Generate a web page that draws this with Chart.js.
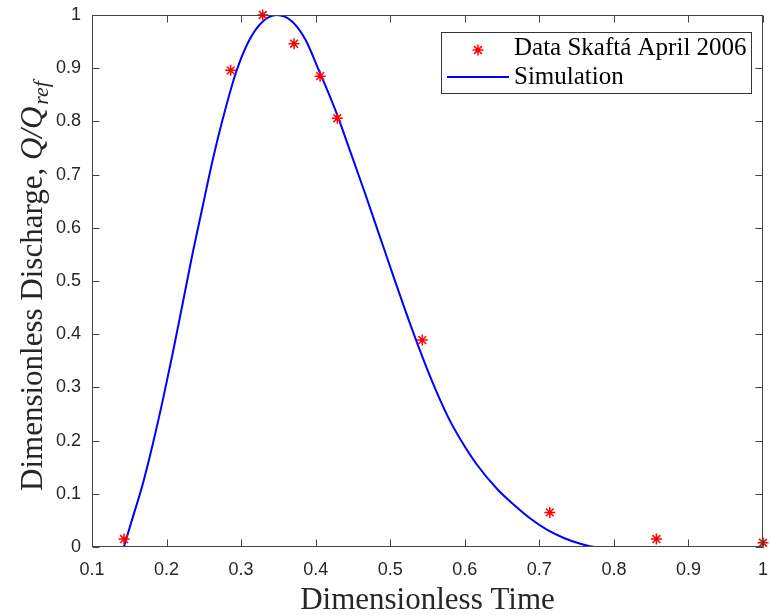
<!DOCTYPE html>
<html>
<head>
<meta charset="utf-8">
<script src="https://cdn.jsdelivr.net/npm/chart.js@4.4.1/dist/chart.umd.min.js"></script>
<style>
  html, body { margin: 0; padding: 0; background: #fff; }
  #chart { display: block; }
</style>
</head>
<body>
<canvas id="chart" width="770" height="615"></canvas>
<script>
// measured data (dimensionless time / discharge)
const dataT = [0.143, 0.286, 0.329, 0.371, 0.406, 0.429, 0.543, 0.714, 0.857, 1.0];
const dataQ = [0.015, 0.896, 1.0, 0.946, 0.885, 0.806, 0.389, 0.065, 0.015, 0.008];

// simulated hydrograph
const simT = [0.1427, 0.1551, 0.1684, 0.1818, 0.1951, 0.2084, 0.2218, 0.2351, 0.2484, 0.2618,
  0.2751, 0.2929, 0.3107, 0.3284, 0.3476, 0.3684, 0.3862, 0.404, 0.4262, 0.444,
  0.4662, 0.484, 0.5018, 0.5196, 0.5373, 0.5551, 0.5773, 0.5951, 0.6151, 0.644,
  0.6662, 0.6884, 0.7107, 0.7329, 0.7551, 0.775, 0.85, 0.95, 1.0];
const simQ = [0, 0.0575, 0.120, 0.195, 0.277, 0.365, 0.459, 0.553, 0.640, 0.727,
  0.803, 0.891, 0.952, 0.987, 1.0, 0.988, 0.954, 0.897, 0.822, 0.753,
  0.665, 0.592, 0.519, 0.447, 0.379, 0.315, 0.245, 0.200, 0.157, 0.108,
  0.079, 0.053, 0.032, 0.017, 0.006, 0, 0, 0, 0];

const xTicks = [0.1, 0.2, 0.3, 0.4, 0.5, 0.6, 0.7, 0.8, 0.9, 1];
const yTicks = [0, 0.1, 0.2, 0.3, 0.4, 0.5, 0.6, 0.7, 0.8, 0.9, 1];

const xTitle = "Dimensionless Time";
const yTitle = "Dimensionless Discharge, ";

const serif = '"Liberation Serif", "Times New Roman", serif';
const sans = '"Liberation Sans", Arial, sans-serif';
const axisColor = "#444";

function fmt(v) {
  return String(Number(v.toFixed(1)));
}

function starPath(ctx, x, y, r) {
  ctx.beginPath();
  ctx.moveTo(x, y - r); ctx.lineTo(x, y + r);
  ctx.moveTo(x - r, y); ctx.lineTo(x + r, y);
  const d = r * Math.SQRT1_2;
  ctx.moveTo(x - d, y - d); ctx.lineTo(x + d, y + d);
  ctx.moveTo(x - d, y + d); ctx.lineTo(x + d, y - d);
  ctx.stroke();
}

// box, inward ticks, legend and axis titles (matlab look)
const matlabFrame = {
  id: "matlabFrame",
  afterDatasetsDraw(chart) {
    const { ctx, chartArea: a, scales } = chart;
    const L = a.left + 0.5, R = a.right - 0.5, T = a.top + 0.5, B = a.bottom - 0.5;
    ctx.save();
    ctx.strokeStyle = axisColor;
    ctx.lineWidth = 1;
    ctx.strokeRect(L, T, R - L, B - T);
    const tl = 7;
    ctx.beginPath();
    xTicks.forEach(v => {
      const px = Math.round(scales.x.getPixelForValue(v)) + 0.5;
      ctx.moveTo(px, B); ctx.lineTo(px, B - tl);
      ctx.moveTo(px, T); ctx.lineTo(px, T + tl);
    });
    yTicks.forEach(v => {
      const py = Math.round(scales.y.getPixelForValue(v)) + 0.5;
      ctx.moveTo(L, py); ctx.lineTo(L + tl, py);
      ctx.moveTo(R, py); ctx.lineTo(R - tl, py);
    });
    ctx.stroke();

    // legend
    const ds = chart.data.datasets;
    const bx = 441.5, by = 32.5, bw = 310, bh = 61;
    ctx.fillStyle = "#fff";
    ctx.fillRect(bx, by, bw, bh);
    ctx.strokeStyle = "#333";
    ctx.strokeRect(bx, by, bw, bh);
    ctx.strokeStyle = ds[0].borderColor;
    ctx.lineWidth = ds[0].borderWidth;
    starPath(ctx, 478, 50, ds[0].pointRadius);
    ctx.strokeStyle = ds[1].borderColor;
    ctx.lineWidth = ds[1].borderWidth;
    ctx.beginPath();
    ctx.moveTo(447, 77); ctx.lineTo(509, 77);
    ctx.stroke();
    ctx.fillStyle = "#000";
    ctx.font = "25px " + serif;
    ctx.textBaseline = "alphabetic";
    ctx.textAlign = "left";
    ctx.fillText(ds[0].label, 514, 55);
    ctx.fillText(ds[1].label, 514, 84);
    ctx.restore();
  },
  afterDraw(chart) {
    const { ctx, chartArea: a } = chart;
    ctx.save();
    ctx.fillStyle = "#262626";
    ctx.textBaseline = "alphabetic";
    // x title
    ctx.font = "31px " + serif;
    ctx.textAlign = "center";
    ctx.fillText(xTitle, (a.left + a.right) / 2, 609);
    // y title with Q/Q_ref
    const f1 = "31px " + serif, f2 = "italic 31px " + serif, f3 = "italic 22px " + serif;
    ctx.font = f1; const w1 = ctx.measureText(yTitle).width;
    ctx.font = f2; const w2 = ctx.measureText("Q/Q").width;
    ctx.font = f3; const w3 = ctx.measureText("ref").width;
    const total = w1 + w2 + w3 + 2;
    ctx.translate(42, (a.top + a.bottom) / 2 + 5);
    ctx.rotate(-Math.PI / 2);
    ctx.textAlign = "left";
    let x0 = -total / 2;
    ctx.font = f1; ctx.fillText(yTitle, x0, 0); x0 += w1;
    ctx.font = f2; ctx.fillText("Q/Q", x0, 0); x0 += w2 + 2;
    ctx.font = f3; ctx.fillText("ref", x0, 6);
    ctx.restore();
  }
};

const chart = new Chart(document.getElementById("chart"), {
  type: "scatter",
  data: {
    datasets: [
      {
        label: "Data Skaftá April 2006",
        data: dataT.map((t, i) => ({ x: t, y: dataQ[i] })),
        pointStyle: "star",
        pointRadius: 5.5,
        pointBorderWidth: 1.5,
        borderWidth: 1.5,
        borderColor: "#ff0000",
        backgroundColor: "#ff0000",
        showLine: false,
        clip: false
      },
      {
        label: "Simulation",
        data: simT.map((t, i) => ({ x: t, y: simQ[i] })),
        showLine: true,
        pointRadius: 0,
        borderColor: "#0000ff",
        borderWidth: 2,
        cubicInterpolationMode: "monotone"
      }
    ]
  },
  options: {
    responsive: false,
    animation: false,
    devicePixelRatio: 1,
    layout: { padding: { left: 0, right: 3, top: 15, bottom: 0 } },
    plugins: {
      legend: { display: false },
      tooltip: { enabled: false }
    },
    scales: {
      x: {
        type: "linear",
        min: 0.1,
        max: 1,
        afterFit: s => { s.height = 68; s.paddingLeft = 0; s.paddingRight = 0; },
        afterBuildTicks: s => { s.ticks = xTicks.map(v => ({ value: v })); },
        grid: { display: false, drawTicks: false },
        border: { display: false },
        ticks: {
          padding: 12,
          color: "#262626",
          font: { family: sans, size: 18 },
          maxRotation: 0,
          autoSkip: false,
          callback: v => fmt(v)
        }
      },
      y: {
        type: "linear",
        min: 0,
        max: 1,
        afterFit: s => { s.width = 92; s.paddingTop = 0; s.paddingBottom = 0; },
        afterBuildTicks: s => { s.ticks = yTicks.map(v => ({ value: v })); },
        grid: { display: false, drawTicks: false },
        border: { display: false },
        ticks: {
          padding: 11,
          color: "#262626",
          font: { family: sans, size: 18 },
          autoSkip: false,
          callback: v => fmt(v)
        }
      }
    }
  },
  plugins: [matlabFrame]
});
</script>
</body>
</html>
